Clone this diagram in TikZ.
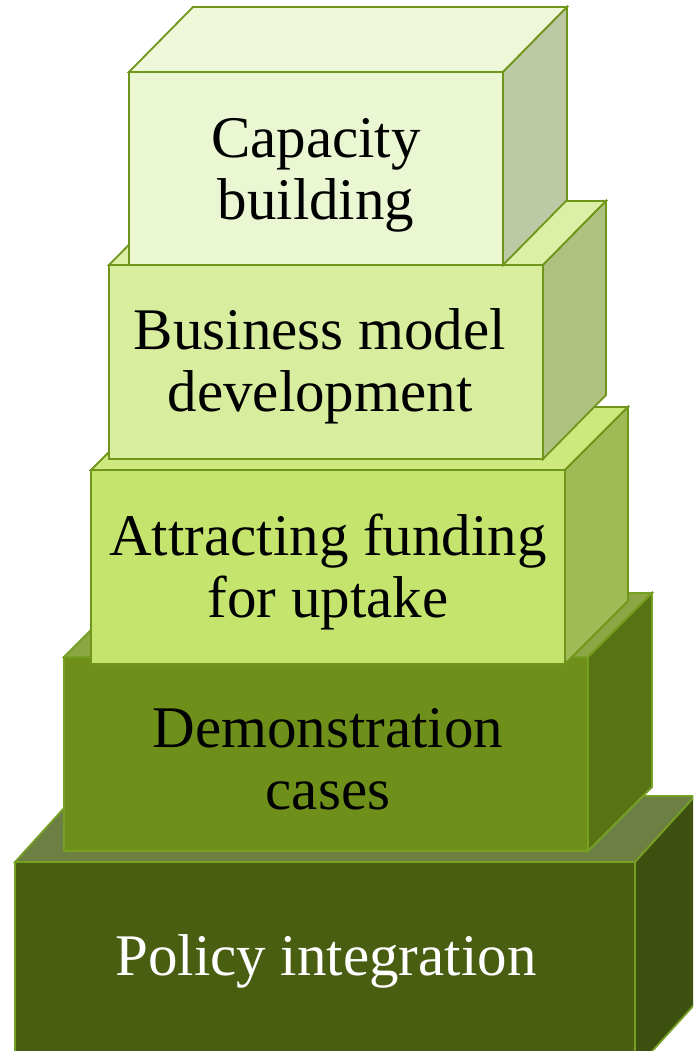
\documentclass[tikz,border=0pt]{standalone}
\usepackage{fontspec}
\setmainfont{Liberation Serif}
\definecolor{edgeL}{HTML}{6F961A}
\definecolor{edgeD}{HTML}{76A024}
\definecolor{f1}{HTML}{EBF6D2}\definecolor{t1}{HTML}{EEF7D8}\definecolor{s1}{HTML}{BDC8A5}
\definecolor{f2}{HTML}{D8ED9D}\definecolor{t2}{HTML}{DCEFA6}\definecolor{s2}{HTML}{AFC17E}
\definecolor{f3}{HTML}{C4E46E}\definecolor{t3}{HTML}{CCE87E}\definecolor{s3}{HTML}{A0BB55}
\definecolor{f4}{HTML}{6E8F19}\definecolor{t4}{HTML}{8BA642}\definecolor{s4}{HTML}{587313}
\definecolor{f5}{HTML}{4A5E12}\definecolor{t5}{HTML}{6D7F42}\definecolor{s5}{HTML}{3D5010}
\newcommand{\cuboid}[9]{%
  \filldraw[fill=#8] (#1,#2) -- ++(#5,#6) -- (#3+#5,#2+#6) -- (#3,#2) -- cycle;
  \filldraw[fill=#9] (#3,#2) -- (#3+#5,#2+#6) -- (#3+#5,#4+#6) -- (#3,#4) -- cycle;
  \filldraw[fill=#7] (#1,#2) rectangle (#3,#4);
}
\begin{document}
\begin{tikzpicture}[x=1pt,y=-1pt,line join=miter,
  lbl/.style={align=center,font=\fontsize{59}{62}\selectfont,inner sep=0pt}]
\useasboundingbox (0,0) rectangle (693,1051);
\clip (0,0) rectangle (693,1051);
\begin{scope}[draw=edgeD,line width=1.8pt]
\cuboid{15}{862}{635}{1070}{60}{-66}{f5}{t5}{s5}
\cuboid{64}{657}{588}{851}{64}{-64}{f4}{t4}{s4}
\end{scope}
\begin{scope}[draw=edgeL,line width=1.8pt]
\cuboid{91}{470}{565}{664}{63}{-63}{f3}{t3}{s3}
\cuboid{109}{265}{543}{459}{63}{-64}{f2}{t2}{s2}
\cuboid{129}{72}{503}{265}{64}{-65}{f1}{t1}{s1}
\end{scope}
\node[lbl] (cap) at (316,175) {Capacity\\building};
\node[lbl] (bus) at (320,366) {Business model\\development};
\node[lbl] (att) at (328,572) {Attracting funding\\for uptake};
\node[lbl] (dem) at (328,759) {Demonstration\\cases};
\node[lbl,text=white] (pol) at (326,961) {Policy integration};
\end{tikzpicture}
\end{document}
